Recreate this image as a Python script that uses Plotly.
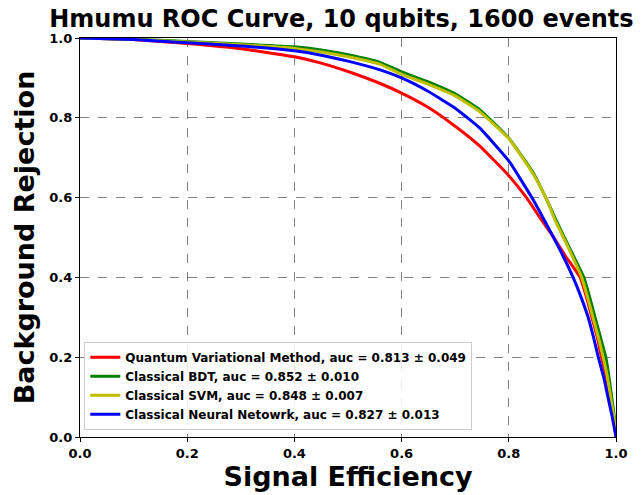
import plotly.graph_objects as go

# Signal efficiency (x) and background rejection (y) for each method
qvm_x = [0, 0.1, 0.2, 0.3, 0.4, 0.45, 0.5, 0.56, 0.6, 0.65, 0.7, 0.746, 0.8, 0.833, 0.861, 0.88, 0.905, 0.933, 0.945, 0.955, 0.965, 0.973, 0.982, 0.989, 0.995, 1.0]
qvm_y = [1.0, 0.996, 0.986, 0.973, 0.953, 0.937, 0.916, 0.886, 0.862, 0.826, 0.779, 0.729, 0.655, 0.600, 0.544, 0.508, 0.455, 0.400, 0.350, 0.300, 0.250, 0.200, 0.150, 0.100, 0.050, 0.0]

bdt_x = [0, 0.1, 0.2, 0.3, 0.4, 0.45, 0.5, 0.56, 0.6, 0.65, 0.7, 0.746, 0.8, 0.846, 0.871, 0.888, 0.911, 0.94, 0.951, 0.961, 0.971, 0.981, 0.987, 0.992, 0.997, 1.0]
bdt_y = [1.0, 0.997, 0.991, 0.985, 0.978, 0.970, 0.958, 0.939, 0.915, 0.890, 0.860, 0.820, 0.749, 0.661, 0.594, 0.544, 0.480, 0.400, 0.350, 0.300, 0.250, 0.200, 0.150, 0.100, 0.050, 0.0]

svm_x = [0, 0.1, 0.2, 0.3, 0.4, 0.45, 0.5, 0.56, 0.6, 0.65, 0.7, 0.746, 0.8, 0.846, 0.871, 0.886, 0.909, 0.936, 0.947, 0.957, 0.967, 0.976, 0.984, 0.99, 0.996, 1.0]
svm_y = [1.0, 0.996, 0.990, 0.983, 0.974, 0.965, 0.953, 0.934, 0.909, 0.884, 0.855, 0.815, 0.748, 0.658, 0.594, 0.544, 0.480, 0.400, 0.350, 0.300, 0.250, 0.200, 0.150, 0.100, 0.050, 0.0]

nn_x = [0, 0.1, 0.2, 0.3, 0.4, 0.45, 0.5, 0.56, 0.6, 0.65, 0.7, 0.746, 0.8, 0.843, 0.866, 0.899, 0.92, 0.935, 0.948, 0.958, 0.967, 0.977, 0.985, 0.993, 1.0]
nn_y = [1.0, 0.996, 0.988, 0.980, 0.968, 0.957, 0.942, 0.920, 0.900, 0.866, 0.824, 0.774, 0.692, 0.600, 0.544, 0.460, 0.400, 0.350, 0.300, 0.250, 0.200, 0.150, 0.100, 0.050, 0.0]

names = [
    "Quantum Variational Method, auc = 0.813 ± 0.049",
    "Classical BDT, auc = 0.852 ± 0.010",
    "Classical SVM, auc = 0.848 ± 0.007",
    "Classical Neural Netowrk, auc = 0.827 ± 0.013",
]
colors = ["#ff0000", "#008000", "#bfbf00", "#0000ff"]
series = [(qvm_x, qvm_y), (bdt_x, bdt_y), (svm_x, svm_y), (nn_x, nn_y)]

tick_vals = [0.0, 0.2, 0.4, 0.6, 0.8, 1.0]
tick_text = ["0.0", "0.2", "0.4", "0.6", "0.8", "1.0"]

FONT = "DejaVu Sans"

fig = go.Figure()
for (x, y), n, c in zip(series, names, colors):
    fig.add_trace(go.Scatter(x=x, y=y, mode="lines", name=n,
                             line=dict(color=c, width=3, shape="spline", smoothing=0.4)))

axis_common = dict(
    range=[0, 1], tickvals=tick_vals, ticktext=tick_text,
    showgrid=True, gridcolor="#808080", griddash="dash", gridwidth=1,
    showline=True, linecolor="black", linewidth=1.2, mirror=True,
    ticks="outside", ticklen=4, tickcolor="black",
    tickfont=dict(family=FONT, size=13, color="black", weight="bold"),
    zeroline=False, automargin=False,
)

# the page body has an 8px margin, so the figure is sized to fill the window from (8, 8)
fig.update_layout(
    width=635, height=487,
    margin=dict(l=72, r=27, t=30, b=58),
    plot_bgcolor="white", paper_bgcolor="white",
    title=dict(text="Hmumu ROC Curve, 10 qubits, 1600 events",
               font=dict(family=FONT, size=24, color="black", weight="bold"),
               x=0.525, xanchor="center", y=0.978, yanchor="middle"),
    xaxis=dict(**axis_common, title=dict(text="Signal Efficiency",
               font=dict(family=FONT, size=27, color="black", weight="bold"), standoff=4)),
    yaxis=dict(**axis_common, title=dict(text="Background Rejection",
               font=dict(family=FONT, size=27, color="black", weight="bold"), standoff=6)),
    legend=dict(x=0.008, y=0.018, xanchor="left", yanchor="bottom",
                bgcolor="rgba(255,255,255,0.85)", bordercolor="#cccccc", borderwidth=1,
                font=dict(family=FONT, size=12, color="black", weight="bold"),
                tracegroupgap=0, itemwidth=30),
    showlegend=True,
)

fig.write_html("out.html")
